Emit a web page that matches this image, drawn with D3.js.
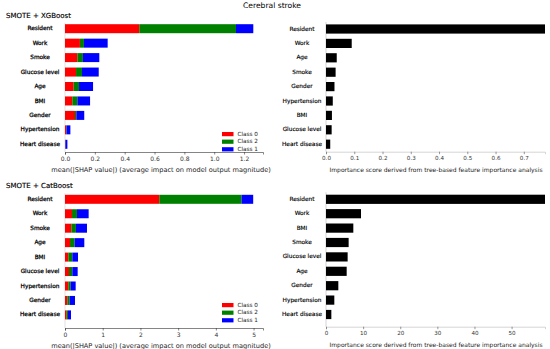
<!DOCTYPE html>
<html><head><meta charset="utf-8">
<script src="https://cdn.jsdelivr.net/npm/d3@7"></script>
<style>body{margin:0;background:#fff}svg{font-family:"DejaVu Sans",sans-serif}</style>
</head><body>
<svg id="c" width="550" height="349"></svg>
<script>
// ---- data ----
const xgbFeatures = ["Resident","Work","Smoke","Glucose level","Age","BMI","Gender","Hypertension","Heart disease"];
const xgbClass0 = [0.498,0.100,0.083,0.074,0.058,0.049,0.067,0.007,0.002];
const xgbClass2 = [0.648,0.027,0.037,0.040,0.036,0.034,0.009,0.003,0.001];
const xgbClass1 = [0.116,0.159,0.110,0.112,0.094,0.085,0.053,0.026,0.013];
const xgbTicks = [0,0.2,0.4,0.6,0.8,1.0,1.2];

const xgbImpFeatures = ["Resident","Work","Age","Smoke","Gender","Hypertension","BMI","Glucose level","Heart disease"];
const xgbImp = [0.775,0.091,0.038,0.034,0.030,0.024,0.021,0.020,0.015];
const xgbImpTicks = [0,0.1,0.2,0.3,0.4,0.5,0.6,0.7];

const catFeatures = ["Resident","Work","Smoke","Age","BMI","Glucose level","Hypertension","Gender","Heart disease"];
const catClass0 = [2.50,0.186,0.168,0.133,0.088,0.106,0.088,0.062,0.044];
const catClass2 = [2.18,0.132,0.122,0.123,0.106,0.088,0.062,0.062,0.036];
const catClass1 = [0.31,0.309,0.293,0.256,0.151,0.142,0.133,0.141,0.079];
const catTicks = [0,1,2,3,4,5];

const catImpFeatures = ["Resident","Work","BMI","Smoke","Glucose level","Age","Gender","Hypertension","Heart disease"];
const catImp = [59.0,9.43,7.36,6.10,5.83,5.57,3.32,2.24,1.44];
const catImpTicks = [0,10,20,30,40,50];

const classNames = ["Class 0","Class 2","Class 1"];
const classColors = ["#ff0000","#008000","#0000ff"];

const svg = d3.select("#c");

svg.append("text").attr("x",272).attr("y",6).attr("text-anchor","middle")
  .attr("dominant-baseline","middle").attr("font-size",7.6).attr("fill","#000").text("Cerebral stroke");

function shapPanel(o){
  const g = svg.append("g");
  const x = d3.scaleLinear().domain([0,o.xmax]).range([65,263]);
  const y = d3.scalePoint().domain(o.features).range([o.top,o.top+8*14.45]);
  const stacks = o.features.map((f,i)=>{
    const vals=[o.c0[i],o.c2[i],o.c1[i]]; let acc=0;
    return vals.map((v,k)=>{const s={f,k,x0:acc,x1:acc+v};acc+=v;return s;});
  }).flat();
  g.append("line").attr("x1",x(0)).attr("x2",x(0)).attr("y1",o.top-6).attr("y2",o.axisY)
    .attr("stroke","#ccc").attr("stroke-width",0.6);
  g.selectAll("rect.b").data(stacks).join("rect")
    .attr("x",d=>x(d.x0)).attr("width",d=>x(d.x1)-x(d.x0))
    .attr("y",d=>y(d.f)-4.5).attr("height",9).attr("fill",d=>classColors[d.k]);
  g.selectAll("text.l").data(o.features).join("text")
    .attr("x",40).attr("y",d=>y(d)).attr("text-anchor","middle").attr("dominant-baseline","middle")
    .attr("font-size",5.8).attr("fill","#000").attr("stroke","#000").attr("stroke-width",0.25).text(d=>d);
  const ax = g.append("g").attr("transform",`translate(0,${o.axisY})`)
    .call(d3.axisBottom(x).tickValues(o.ticks).tickSize(2.5).tickPadding(2).tickFormat(o.fmt));
  ax.select(".domain").attr("stroke","#333").attr("stroke-width",0.6);
  ax.selectAll(".tick line").attr("stroke","#333").attr("stroke-width",0.6);
  ax.selectAll(".tick text").attr("font-size",6).attr("fill","#333").attr("font-family","DejaVu Sans");
  g.append("text").attr("x",161).attr("y",o.axisY+18.5).attr("text-anchor","middle")
    .attr("dominant-baseline","middle").attr("font-size",6.6).attr("fill","#222")
    .text("mean(|SHAP value|) (average impact on model output magnitude)");
  g.append("text").attr("x",6).attr("y",o.titleY).attr("dominant-baseline","middle")
    .attr("font-size",7).attr("fill","#000").attr("stroke","#000").attr("stroke-width",0.15).text(o.title);
  const lg = g.append("g");
  classNames.forEach((n,i)=>{
    const yy = o.legendY + i*7.6;
    lg.append("rect").attr("x",222).attr("y",yy-2).attr("width",11.5).attr("height",4.2).attr("fill",classColors[i]);
    lg.append("text").attr("x",237.5).attr("y",yy).attr("dominant-baseline","middle")
      .attr("font-size",5.7).attr("fill","#222").text(n);
  });
}

function impPanel(o){
  const g = svg.append("g");
  const x = d3.scaleLinear().domain([0,o.xmax]).range([326,545]);
  const y = d3.scalePoint().domain(o.features).range([o.top,o.top+8*14.4]);
  g.append("line").attr("x1",x(0)).attr("x2",x(0)).attr("y1",o.top-7).attr("y2",o.axisY)
    .attr("stroke","#bbb").attr("stroke-width",0.6);
  g.selectAll("rect").data(o.features).join("rect")
    .attr("x",x(0)).attr("width",(d,i)=>x(o.vals[i])-x(0))
    .attr("y",d=>y(d)-4.6).attr("height",9.2).attr("fill","#000");
  g.selectAll("text.l").data(o.features).join("text")
    .attr("x",302).attr("y",d=>y(d)).attr("text-anchor","middle").attr("dominant-baseline","middle")
    .attr("font-size",5.8).attr("fill","#000").attr("stroke","#000").attr("stroke-width",0.15).text(d=>d);
  const ax = g.append("g").attr("transform",`translate(0,${o.axisY})`)
    .call(d3.axisBottom(x).tickValues(o.ticks).tickSize(2.5).tickPadding(2).tickFormat(o.fmt));
  ax.select(".domain").attr("stroke","#bbb").attr("stroke-width",0.6);
  ax.selectAll(".tick line").attr("stroke","#555").attr("stroke-width",0.6);
  ax.selectAll(".tick text").attr("font-size",5.6).attr("fill","#333").attr("font-family","DejaVu Sans");
  g.append("text").attr("x",436).attr("y",o.axisY+19).attr("text-anchor","middle")
    .attr("dominant-baseline","middle").attr("font-size",6.0).attr("fill","#222")
    .text("Importance score derived from tree-based feature importance analysis");
}

shapPanel({features:xgbFeatures,c0:xgbClass0,c2:xgbClass2,c1:xgbClass1,xmax:1.327,ticks:xgbTicks,
  fmt:d3.format(".1f"),top:28.7,axisY:152,titleY:16,title:"SMOTE + XGBoost",legendY:134});
shapPanel({features:catFeatures,c0:catClass0,c2:catClass2,c1:catClass1,xmax:5.25,ticks:catTicks,
  fmt:d3.format("d"),top:199.3,axisY:328,titleY:186,title:"SMOTE + CatBoost",legendY:305});
impPanel({features:xgbImpFeatures,vals:xgbImp,xmax:0.775,ticks:xgbImpTicks,fmt:d3.format(".1f"),top:29,axisY:151.7});
impPanel({features:catImpFeatures,vals:catImp,xmax:59,ticks:catImpTicks,fmt:d3.format("d"),top:199.3,axisY:326.7});
</script>
</body></html>
